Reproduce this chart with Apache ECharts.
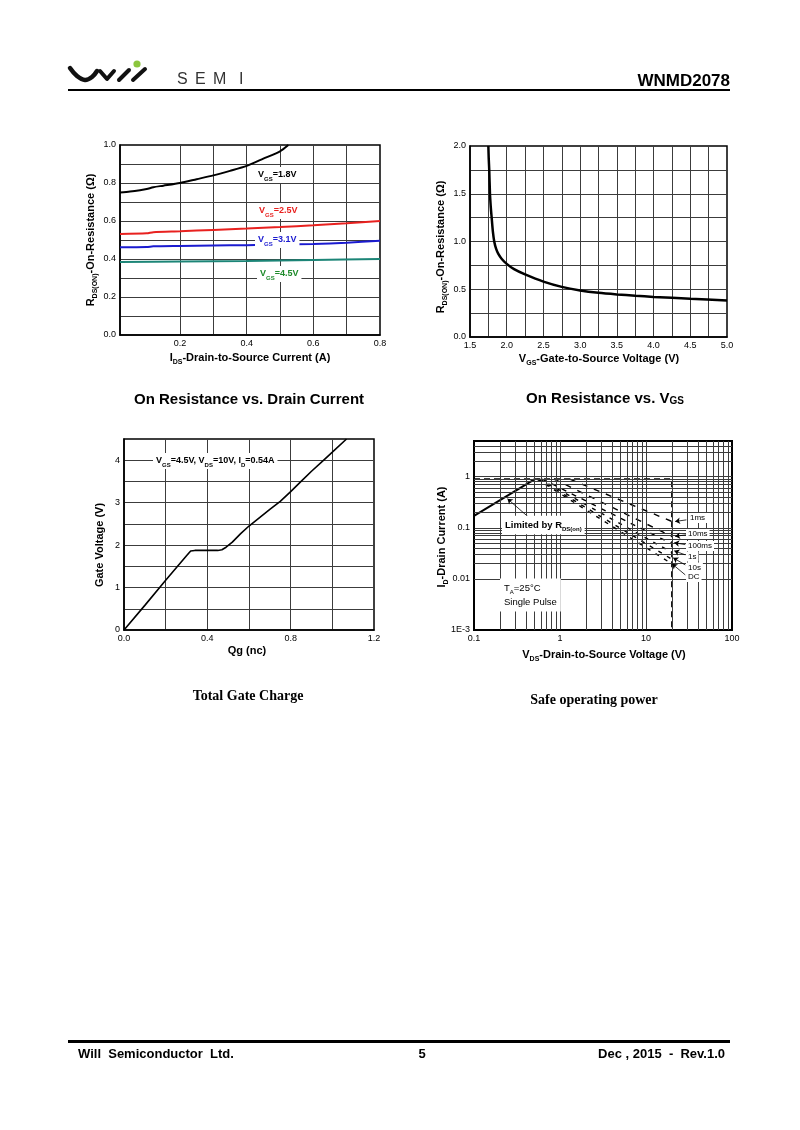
<!DOCTYPE html>
<html><head><meta charset="utf-8">
<script src="https://cdn.jsdelivr.net/npm/echarts@6/dist/echarts.min.js"></script>
<style>html,body{margin:0;padding:0;background:#fff}#c{width:800px;height:1130px}</style>
</head><body><div id="c"></div>
<script>
// ---------- DATA ----------
// Chart 1: On resistance vs drain current  [I_DS (A), R (ohm)]
const rds18 = [[0.02,0.75],[0.05,0.755],[0.08,0.762],[0.1,0.768],[0.12,0.778],[0.15,0.786],[0.2,0.80],[0.25,0.82],[0.3,0.84],[0.35,0.864],[0.4,0.89],[0.45,0.928],[0.5,0.967],[0.525,1.0]];
const rds25 = [[0.02,0.532],[0.1,0.535],[0.12,0.541],[0.2,0.546],[0.3,0.553],[0.4,0.56],[0.5,0.568],[0.6,0.577],[0.7,0.588],[0.8,0.600]];
const rds31 = [[0.02,0.462],[0.1,0.463],[0.12,0.467],[0.2,0.469],[0.3,0.471],[0.4,0.473],[0.5,0.476],[0.6,0.479],[0.7,0.486],[0.8,0.496]];
const rds45 = [[0.02,0.384],[0.2,0.387],[0.4,0.390],[0.6,0.395],[0.8,0.400]];
const idsTicks = [0.1,0.2,0.3,0.4,0.5,0.6,0.7,0.8];
const idsLabels = [0.2,0.4,0.6,0.8];

// Chart 2: On resistance vs VGS
const vgs    = [1.75,1.755,1.762,1.772,1.783,1.795,1.812,1.83,1.855,1.886,1.93,2.0,2.1,2.25,2.5,2.75,3.0,3.25,3.5,3.75,4.0,4.5,5.0];
const rdsVgs = [2.0,1.87,1.75,1.5,1.36,1.25,1.1,1.0,0.925,0.87,0.82,0.766,0.71,0.655,0.58,0.525,0.488,0.463,0.446,0.432,0.42,0.40,0.382];

// Chart 3: Total gate charge
const qg = [0,0.1,0.2,0.3,0.32,0.34,0.45,0.47,0.49,0.52,0.56,0.6,0.7,0.75,0.8,0.85,0.9,0.96,1.0,1.068];
const vg = [0,0.58,1.17,1.75,1.86,1.875,1.875,1.89,1.95,2.07,2.27,2.45,2.84,3.03,3.26,3.5,3.74,4.01,4.19,4.5];

// Chart 4: Safe operating area  [V_DS (V), I_D (A)]
const soaRds   = [[0.1,0.172],[0.51,0.9]];
const soaLimit = [[0.1,0.9],[20,0.9],[20,0.001]];
const soa1ms   = [[1.3,0.9],[20,0.133]];
const soa10ms  = [[0.85,0.9],[20,0.068]];
const soa100ms = [[0.62,0.9],[20,0.0486]];
const soa1s    = [[0.58,0.9],[20,0.033]];
const soa10s   = [[0.56,0.9],[20,0.0243]];
const soaDC    = [[0.54,0.9],[20,0.0197]];
const soaArrows = [
  [[0.467,0.1435],[0.245,0.37]],
  [[29.5,0.143],[21.8,0.133]],
  [[29.5,0.073],[21.8,0.068]],
  [[28.6,0.047],[21.3,0.051]],
  [[28.6,0.0296],[21.3,0.0354]],
  [[28.6,0.0188],[20.7,0.0258]],
  [[28.6,0.012],[20.1,0.0197]]
];
const decadesX = [0.1,1,10];
const decadesY = [0.001,0.01,0.1,1];
const mult = [2,3,4,5,6,7,8,9];

// ---------- HELPERS ----------
const F = 'Liberation Sans, Arial, Helvetica, sans-serif';
const FS = 'Liberation Serif, Times New Roman, serif';
const FN = 'Liberation Sans Narrow, Arial Narrow, Liberation Sans, Arial, sans-serif';
const GRIDC = '#3c3c3c';
const minorX = [], minorY = [];
decadesX.forEach(d => mult.forEach(m => { const v = +(d*m).toPrecision(3); if (v < 100) minorX.push(v); }));
decadesY.forEach(d => mult.forEach(m => { const v = +(d*m).toPrecision(3); if (v < 5) minorY.push(v); }));

function axisBase(gi, extra) {
  return Object.assign({
    gridIndex: gi,
    axisLine: {show: true, lineStyle: {color: '#000', width: 1.5}},
    axisTick: {show: false},
    splitLine: {show: true, showMinLine: false, showMaxLine: false, lineStyle: {color: GRIDC, width: 1}},
    axisLabel: {color: '#000', fontSize: 9, fontFamily: F, margin: 4}
  }, extra);
}
function line(data, color, width, gi, extra) {
  return Object.assign({
    type: 'line', data, xAxisIndex: gi, yAxisIndex: gi, showSymbol: false, symbol: 'none',
    lineStyle: {color, width}, silent: true, animation: false
  }, extra || {});
}
const richLab = (size, color, weight) => ({
  m: {fontSize: size, fontWeight: weight, fontFamily: F, fill: color, lineHeight: size + 3},
  s: {fontSize: Math.round(size*0.65), fontWeight: weight, fontFamily: F, fill: color, verticalAlign: 'bottom', lineHeight: size + 5}
});
function txt(x, y, text, opt) {
  opt = opt || {};
  const style = {
    text, align: opt.align || 'left', verticalAlign: 'middle',
    fill: opt.color || '#000', fontSize: opt.size || 9, fontWeight: opt.weight || 'normal',
    fontFamily: opt.family || F
  };
  if (opt.rich) style.rich = opt.rich;
  if (opt.bg) { style.backgroundColor = opt.bg; style.padding = opt.pad || [1, 2]; }
  return {type: 'text', x, y, z: 100, rotation: opt.rot || 0, style};
}
const oneDec = v => (+v).toFixed(1);

// ---------- OPTION ----------
const chart = echarts.init(document.getElementById('c'), null, {width: 800, height: 1130});
const option = {
  animation: false,
  backgroundColor: '#fff',
  textStyle: {fontFamily: F},
  grid: [
    {left: 120, top: 145, width: 260, height: 190, show: true, borderColor: '#000', borderWidth: 1.5, containLabel: false, outerBoundsMode: 'none'},
    {left: 470, top: 146, width: 257, height: 191, show: true, borderColor: '#000', borderWidth: 1.5, containLabel: false, outerBoundsMode: 'none'},
    {left: 124, top: 439, width: 250, height: 191, show: true, borderColor: '#000', borderWidth: 1.5, containLabel: false, outerBoundsMode: 'none'},
    {left: 474, top: 441, width: 258, height: 189, show: true, borderColor: '#000', borderWidth: 2, containLabel: false, outerBoundsMode: 'none'}
  ],
  xAxis: [
    axisBase(0, {type: 'value', min: 0.02, max: 0.8,
      axisTick: {show: false, customValues: idsTicks},
      axisLabel: {color: '#000', fontSize: 9, fontFamily: F, margin: 4, customValues: idsLabels, formatter: oneDec}}),
    axisBase(1, {type: 'value', min: 1.5, max: 5, interval: 0.25,
      axisLabel: {color: '#000', fontSize: 9, fontFamily: F, margin: 4, showMinLabel: true, showMaxLabel: true,
        formatter: v => (Math.round(v*4) % 2 === 0 ? oneDec(v) : '')}}),
    axisBase(2, {type: 'value', min: 0, max: 1.2, interval: 0.2,
      axisLabel: {color: '#000', fontSize: 9, fontFamily: F, margin: 4, showMinLabel: true, showMaxLabel: true,
        formatter: v => (Math.round(v*5) % 2 === 0 ? oneDec(v) : '')}}),
    axisBase(3, {type: 'log', logBase: 10, min: 0.1, max: 100,
      axisLabel: {color: '#000', fontSize: 9, fontFamily: F, margin: 4, showMinLabel: true, showMaxLabel: true,
        formatter: v => String(+(+v).toPrecision(3))}})
  ],
  yAxis: [
    axisBase(0, {type: 'value', min: 0, max: 1, interval: 0.1,
      axisLabel: {color: '#000', fontSize: 9, fontFamily: F, margin: 4, showMinLabel: true, showMaxLabel: true,
        formatter: v => (Math.round(v*10) % 2 === 0 ? oneDec(v) : '')}}),
    axisBase(1, {type: 'value', min: 0, max: 2, interval: 0.25,
      axisLabel: {color: '#000', fontSize: 9, fontFamily: F, margin: 4, showMinLabel: true, showMaxLabel: true,
        formatter: v => (Math.round(v*4) % 2 === 0 ? oneDec(v) : '')}}),
    axisBase(2, {type: 'value', min: 0, max: 4.5, interval: 0.5,
      axisLabel: {color: '#000', fontSize: 9, fontFamily: F, margin: 4, showMinLabel: true, showMaxLabel: true,
        formatter: v => (Math.abs(v - Math.round(v)) < 1e-6 ? String(Math.round(v)) : '')}}),
    axisBase(3, {type: 'log', logBase: 10, min: 0.001, max: 5,
      axisLabel: {color: '#000', fontSize: 9, fontFamily: F, margin: 4, showMinLabel: true, showMaxLabel: false,
        formatter: v => { const r = +(+v).toPrecision(3); if (r > 1.5) return ''; if (r <= 0.0015) return '1E-3'; return String(r); }}})
  ],
  series: [
    line(rds18, '#000', 2, 0, {smooth: 0.25}),
    line(rds25, '#e8211f', 2, 0, {smooth: 0.25}),
    line(rds31, '#1b1bd0', 2, 0, {smooth: 0.25}),
    line(rds45, '#1c8577', 2, 0, {smooth: 0.25}),
    line(vgs.map((v, i) => [v, rdsVgs[i]]), '#000', 2.5, 1, {smooth: 0.25}),
    line(qg.map((v, i) => [v, vg[i]]), '#000', 1.6, 2),
    line(soaRds, '#000', 2, 3, {
      markLine: {silent: true, symbol: ['none', 'none'], animation: false, label: {show: false},
        lineStyle: {color: GRIDC, width: 1, type: 'solid'},
        data: minorX.map(v => ({xAxis: v})).concat(minorY.map(v => ({yAxis: v})))}
    }),
    line(soaLimit, '#000', 1.6, 3, {lineStyle: {color: '#000', width: 1.6, type: [6, 4]}}),
    line(soa1ms, '#000', 1.4, 3, {lineStyle: {color: '#000', width: 1.4, type: [6, 7]}}),
    line(soa10ms, '#000', 1.4, 3, {lineStyle: {color: '#000', width: 1.4, type: [6, 7]}}),
    line(soa100ms, '#000', 1.4, 3, {lineStyle: {color: '#000', width: 1.4, type: [5, 6]}}),
    line(soa1s, '#000', 1.4, 3, {lineStyle: {color: '#000', width: 1.4, type: [4, 6]}}),
    line(soa10s, '#000', 1.4, 3, {lineStyle: {color: '#000', width: 1.4, type: [4, 6]}}),
    line(soaDC, '#000', 1.4, 3, {lineStyle: {color: '#000', width: 1.4, type: [4, 6]},
      markLine: {silent: true, symbol: ['none', 'arrow'], symbolSize: 5, animation: false, label: {show: false},
        lineStyle: {color: '#000', width: 0.8, type: 'solid'},
        data: soaArrows.map(a => [{coord: a[0]}, {coord: a[1]}])}
    })
  ],
  graphic: {elements: [
    // header logo
    {type: 'polyline', shape: {points: [[70,68],[77,76],[85,80],[92,77],[97,71]], smooth: 0.4}, style: {stroke: '#111', lineWidth: 4.5, fill: null, lineCap: 'round'}},
    {type: 'polyline', shape: {points: [[100,71],[107,79],[114,71]]}, style: {stroke: '#111', lineWidth: 4, fill: null, lineCap: 'round', lineJoin: 'round'}},
    {type: 'line', shape: {x1: 119, y1: 80, x2: 129, y2: 70}, style: {stroke: '#111', lineWidth: 4, lineCap: 'round'}},
    {type: 'line', shape: {x1: 133, y1: 80, x2: 145, y2: 69}, style: {stroke: '#111', lineWidth: 4, lineCap: 'round'}},
    {type: 'circle', shape: {cx: 137, cy: 64, r: 3.6}, style: {fill: '#8cc63e'}},
    txt(177, 80, 'S', {size: 16, color: '#333'}),
    txt(195, 80, 'E', {size: 16, color: '#333'}),
    txt(213, 80, 'M', {size: 16, color: '#333'}),
    txt(239, 80, 'I', {size: 16, color: '#333'}),
    txt(730, 81, 'WNMD2078', {size: 17, weight: 'bold', align: 'right'}),
    {type: 'rect', shape: {x: 68, y: 89, width: 662, height: 2}, style: {fill: '#000'}},
    // footer
    {type: 'rect', shape: {x: 68, y: 1040, width: 662, height: 3}, style: {fill: '#000'}},
    txt(78, 1054, 'Will  Semiconductor  Ltd.', {size: 13, weight: 'bold', family: FN}),
    txt(422, 1054, '5', {size: 13, weight: 'bold', align: 'center', family: FN}),
    txt(725, 1054, 'Dec , 2015  -  Rev.1.0', {size: 13, weight: 'bold', align: 'right', family: FN}),
    // titles
    txt(249, 400, 'On Resistance vs. Drain Current', {size: 15, weight: 'bold', align: 'center'}),
    txt(605, 399, '{t|On Resistance vs. V}{g|GS}', {align: 'center', rich: {
      t: {fontSize: 15, fontWeight: 'bold', fontFamily: F, lineHeight: 18},
      g: {fontSize: 10, fontWeight: 'bold', fontFamily: F, lineHeight: 18, padding: [4, 0, 0, 0]}}}),
    txt(248, 696, 'Total Gate Charge', {size: 14, weight: 'bold', align: 'center', family: FS}),
    txt(594, 700, 'Safe operating power', {size: 14, weight: 'bold', align: 'center', family: FS}),
    // axis names
    txt(91, 240, '{m|R}{s|DS(ON)}{m|-On-Resistance (Ω)}', {align: 'center', rot: Math.PI/2, rich: richLab(11, '#000', 'bold')}),
    txt(250, 358, '{m|I}{s|DS}{m|-Drain-to-Source Current (A)}', {align: 'center', rich: richLab(11, '#000', 'bold')}),
    txt(441, 247, '{m|R}{s|DS(ON)}{m|-On-Resistance (Ω)}', {align: 'center', rot: Math.PI/2, rich: richLab(11, '#000', 'bold')}),
    txt(599, 359, '{m|V}{s|GS}{m|-Gate-to-Source Voltage (V)}', {align: 'center', rich: richLab(11, '#000', 'bold')}),
    txt(100, 545, 'Gate Voltage (V)', {align: 'center', rot: Math.PI/2, size: 11, weight: 'bold'}),
    txt(247, 651, 'Qg (nc)', {align: 'center', size: 11, weight: 'bold'}),
    txt(442, 537, '{m|I}{s|D}{m|-Drain Current (A)}', {align: 'center', rot: Math.PI/2, rich: richLab(11, '#000', 'bold')}),
    txt(604, 655, '{m|V}{s|DS}{m|-Drain-to-Source Voltage (V)}', {align: 'center', rich: richLab(11, '#000', 'bold')}),
    // chart 1 labels
    txt(255, 175, '{m|V}{s|GS}{m|=1.8V}', {rich: richLab(9, '#000', 'bold'), bg: '#fff', pad: [1, 3]}),
    txt(256, 211, '{m|V}{s|GS}{m|=2.5V}', {rich: richLab(9, '#e8211f', 'bold'), bg: '#fff', pad: [1, 3]}),
    txt(255, 240, '{m|V}{s|GS}{m|=3.1V}', {rich: richLab(9, '#1b1bd0', 'bold'), bg: '#fff', pad: [1, 3]}),
    txt(257, 274, '{m|V}{s|GS}{m|=4.5V}', {rich: richLab(9, '#1e8a2a', 'bold'), bg: '#fff', pad: [1, 3]}),
    // chart 3 label
    txt(153, 461, '{m|V}{s|GS}{m|=4.5V, V}{s|DS}{m|=10V, I}{s|D}{m|=0.54A}', {rich: richLab(9, '#000', 'bold'), bg: '#fff', pad: [1, 3]}),
    // chart 4 labels
    txt(502, 525, '{m|Limited by R}{s|DS(on)}', {rich: richLab(9.5, '#000', 'bold'), bg: '#fff', pad: [2, 3]}),
    txt(500, 595, '{m|T}{s|A}{m|=25°C}\n{m|Single Pulse}', {rich: {
      m: {fontSize: 9.5, fontFamily: F, lineHeight: 13},
      s: {fontSize: 6, fontFamily: F, verticalAlign: 'bottom', lineHeight: 14}}, bg: '#fff', pad: [3, 4]}),
    txt(688, 518, '1ms', {size: 8, bg: '#fff', pad: [1, 2]}),
    txt(686, 534, '10ms', {size: 8, bg: '#fff', pad: [1, 2]}),
    txt(686, 546, '100ms', {size: 8, bg: '#fff', pad: [1, 2]}),
    txt(686, 556.5, '1s', {size: 8, bg: '#fff', pad: [1, 2]}),
    txt(686, 567.5, '10s', {size: 8, bg: '#fff', pad: [1, 2]}),
    txt(686, 577, 'DC', {size: 8, bg: '#fff', pad: [1, 2]})
  ]}
};
chart.setOption(option);
</script>
</body></html>
